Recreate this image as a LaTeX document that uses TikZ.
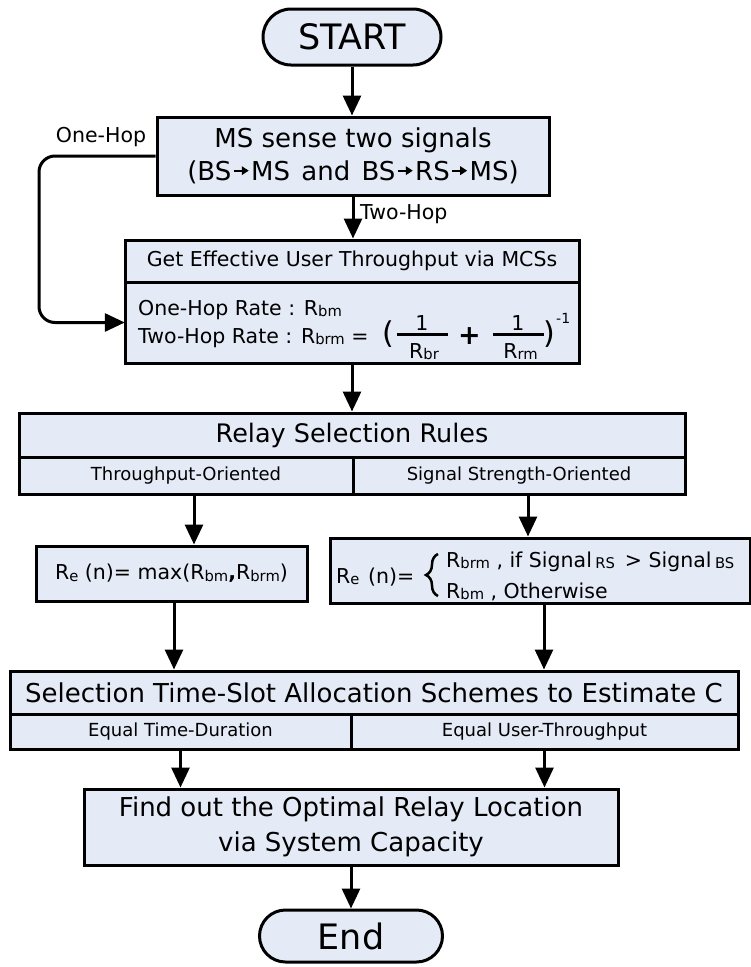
\documentclass[tikz,border=0pt]{standalone}
\usepackage{fontspec}
\setmainfont{DejaVu Sans}
\usetikzlibrary{arrows.meta,shapes.misc,decorations.pathreplacing}
\definecolor{boxfill}{RGB}{228,234,246}
\newcommand\sbs[1]{\raisebox{-1.5pt}{\scalebox{0.72}{#1}}}
\newcommand\sarr{\hspace{1.5pt}\tikz[baseline=0pt]\draw[line width=1.8pt,-{Triangle[length=7pt,width=8.5pt]}] (0pt,10pt) -- (15pt,10pt);\hspace{1.5pt}}
\newcommand\fsz[1]{\fontsize{#1}{#1}\selectfont}
\begin{document}
\begin{tikzpicture}[x=1pt,y=-1pt,
  box/.style={draw=black,fill=boxfill,line width=3pt,rectangle,inner sep=0pt},
  term/.style={draw=black,fill=boxfill,line width=3pt,rounded rectangle,inner sep=0pt},
  cell/.style={inner sep=0pt},
  arr/.style={line width=3pt,-{Triangle[length=20pt,width=18pt]}},
  divl/.style={line width=3pt},
  lbl/.style={inner sep=0pt}]
\useasboundingbox (0,0) rectangle (751,967);

% START
\node[term,minimum width=178pt,minimum height=56pt,font=\fsz{35}] (start) at (352,37) {START};

% MS box
\node[box,minimum width=392pt,minimum height=78pt,align=center,font={\fontsize{26}{33}\selectfont}] (ms) at (353,156)
  {MS sense two signals\\(BS\sarr MS\hspace{3pt} and\hspace{3pt} BS\sarr RS\sarr MS)};
\draw[arr] (start.south) -- (start.south |- ms.north);

% labels
\node[lbl,font=\fsz{20.5}] (oh) at (101,137) {One-Hop};
\node[lbl,anchor=west,font=\fsz{20.5}] (th) at (360,214) {Two-Hop};

% Get box
\node[box,minimum width=454pt,minimum height=123pt] (get) at (352,301.5) {};
\node[cell,minimum width=454pt,minimum height=42pt,font=\fsz{20.5}] (gettitle) at (352,261) {Get Effective User Throughput via MCSs};
\draw[divl] (gettitle.south west) -- (gettitle.south east);
\node[cell,minimum width=454pt,minimum height=81pt] (getlow) at (352,322.5) {};
\node[lbl,anchor=base west,font=\fsz{20.5}] (r1) at (138,315) {One-Hop Rate : R\sbs{bm}};
\node[lbl,anchor=base west,font=\fsz{20.5}] (r2) at (138,343) {Two-Hop Rate : R\sbs{brm} =};
\node[lbl,anchor=base,font=\fsz{30}] (lp) at (388,343) {(};
\node[lbl,anchor=base,font=\fsz{20.5}] (n1) at (422,330) {1};
\node[fill=black,minimum width=51pt,minimum height=3pt,inner sep=0pt] (b1) at (422.5,334) {};
\node[lbl,anchor=base,font=\fsz{20.5}] (d1) at (424,358) {R\sbs{br}};
\node[lbl,font=\fsz{27}\bfseries] (plus) at (469.5,336) {+};
\node[lbl,anchor=base,font=\fsz{20.5}] (n2) at (518,330) {1};
\node[fill=black,minimum width=51pt,minimum height=3pt,inner sep=0pt] (b2) at (518,334) {};
\node[lbl,anchor=base,font=\fsz{20.5}] (d2) at (520.5,358) {R\sbs{rm}};
\node[lbl,anchor=base,font=\fsz{30}] (rp) at (549,343) {)};
\node[lbl,anchor=base west,font=\fsz{14}] (ex) at (556,323) {-1};

\draw[arr] (ms.south) -- (ms.south |- get.north);
\coordinate (lx) at (39,0);
\draw[arr,rounded corners=16pt] (ms.west) -- (ms.west -| lx) -- (getlow.west -| lx) -- (getlow.west);

% Relay selection rules
\node[box,minimum width=666pt,minimum height=81pt] (relay) at (352,453.5) {};
\node[cell,minimum width=666pt,minimum height=44pt,font=\fsz{25.5}] (rtitle) at (352,435) {Relay Selection Rules};
\draw[divl] (rtitle.south west) -- (rtitle.south east);
\node[cell,minimum width=334pt,minimum height=37pt,font=\fsz{18}] (thr) at (186,475.5) {Throughput-Oriented};
\node[cell,minimum width=332pt,minimum height=37pt,font=\fsz{18}] (sso) at (519,475.5) {Signal Strength-Oriented};
\draw[divl] (thr.north east) -- (thr.south east);
\draw[arr] (get.south) -- (relay.north);

% left rule box
\node[box,minimum width=271pt,minimum height=55pt,font=\fsz{20.5}] (lbox) at (171.5,573.5)
  {R\sbs{e} (n)= max(R\sbs{bm}\textbf{,}R\sbs{brm})};
\draw[arr] ([xshift=8pt]thr.south) -- ([xshift=8pt]thr.south |- lbox.north);

% right rule box
\node[box,minimum width=420pt,minimum height=65pt] (rbox) at (540,570.5) {};
\draw[arr] ([xshift=9pt]sso.south) -- ([xshift=9pt]sso.south |- rbox.north);
\node[lbl,anchor=base west,font=\fsz{20.5}] (re2) at (336,583) {R\sbs{e}\hspace{2pt} (n)=};
\coordinate (br1) at (438,596);
\coordinate (br2) at (438,554);
\draw[line width=2.5pt,decorate,decoration={brace,amplitude=12pt}] (br1) -- (br2);
\node[lbl,anchor=base west,font=\fsz{20.5}] (c1) at (446,567) {R\sbs{brm} , if Signal\,\sbs{RS}\, > Signal\,\sbs{BS}};
\node[lbl,anchor=base west,font=\fsz{20.5}] (c2) at (446,598) {R\sbs{bm} , Otherwise};

% selection box
\node[box,minimum width=728pt,minimum height=78pt] (sel) at (374,710) {};
\node[cell,minimum width=728pt,minimum height=43pt,font=\fsz{26}] (stitle) at (374,692.5) {Selection Time-Slot Allocation Schemes to Estimate C};
\draw[divl] (stitle.south west) -- (stitle.south east);
\node[cell,minimum width=341pt,minimum height=35pt,font=\fsz{18}] (etd) at (180.5,731.5) {Equal Time-Duration};
\node[cell,minimum width=387pt,minimum height=35pt,font=\fsz{18}] (eut) at (544.5,731.5) {Equal User-Throughput};
\draw[divl] (etd.north east) -- (etd.south east);
\draw[arr] ([xshift=2.5pt]lbox.south) -- ([xshift=2.5pt]lbox.south |- sel.north);
\draw[arr] ([xshift=4pt]rbox.south) -- ([xshift=4pt]rbox.south |- sel.north);

% find box
\node[box,minimum width=534pt,minimum height=76pt,align=center,font={\fontsize{26}{35}\selectfont}] (find) at (351,827)
  {Find out the Optimal Relay Location\\via System Capacity};
\draw[arr] (etd.south) -- (etd.south |- find.north);
\draw[arr] (eut.south) -- (eut.south |- find.north);

% End
\node[term,minimum width=183pt,minimum height=52pt,font=\fsz{35}] (fin) at (351,936) {End};
\draw[arr] (find.south) -- (fin.north);
\end{tikzpicture}
\end{document}
